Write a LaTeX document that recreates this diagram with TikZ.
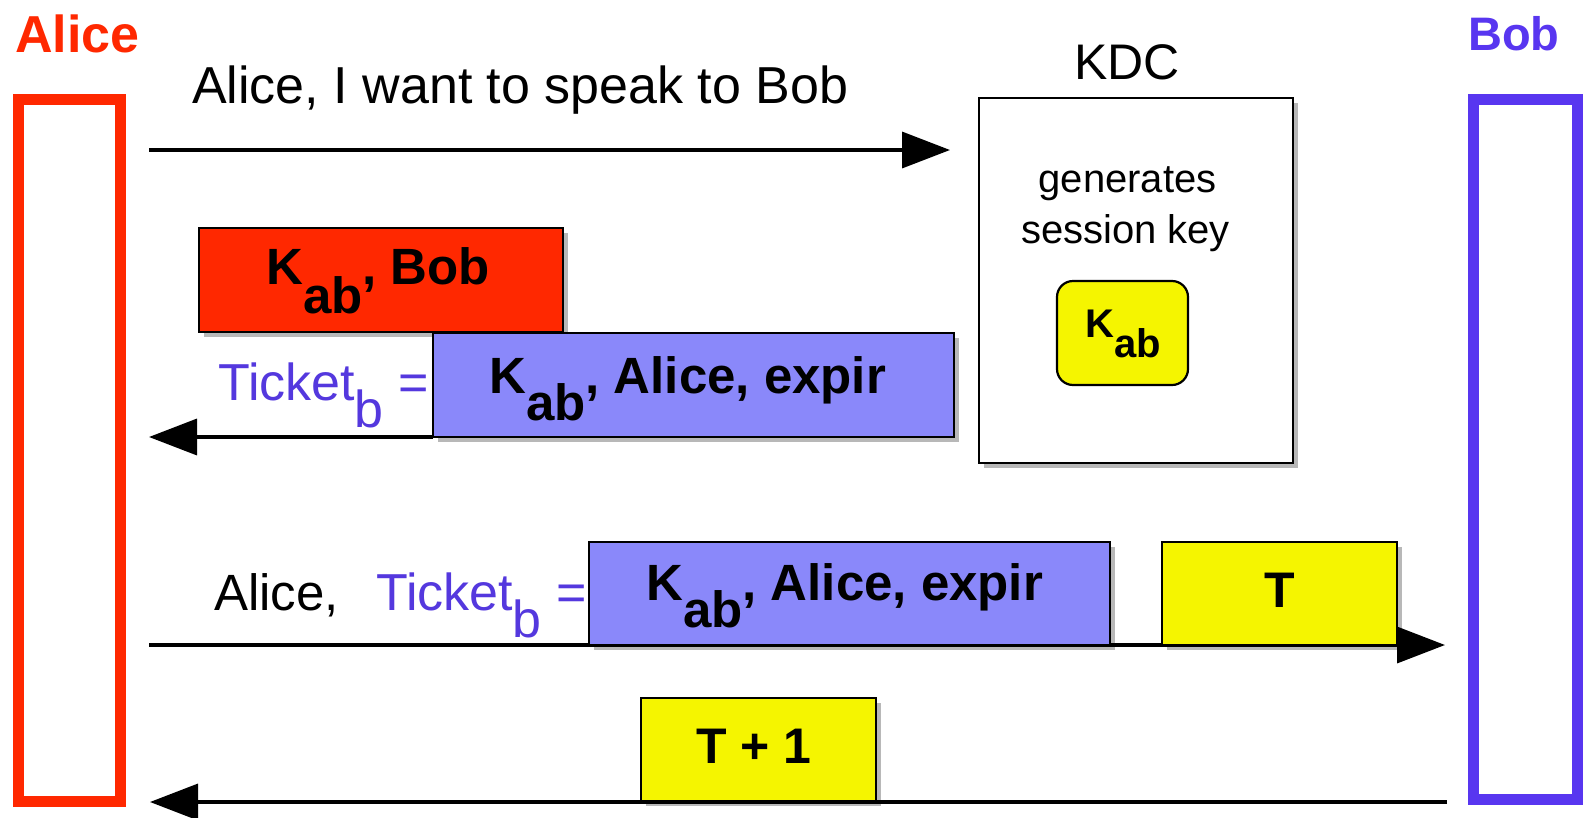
\documentclass[tikz,border=0pt]{standalone}
\usepackage{fontspec}
\setmainfont{Liberation Sans}
\usetikzlibrary{arrows.meta,shadows}
\definecolor{alicered}{RGB}{255,40,0}
\definecolor{bobblue}{RGB}{88,54,240}
\definecolor{tktfill}{RGB}{138,136,250}
\definecolor{keyyellow}{RGB}{245,245,0}
\definecolor{tkttext}{RGB}{84,56,222}
\newcommand{\fsz}[1]{\fontsize{#1}{#1}\selectfont}
\newcommand{\lowsub}[2]{\raisebox{-#1pt}{#2}}
\begin{document}
\begin{tikzpicture}[x=1pt,y=-1pt,
  lifeline/.style={draw=#1,line width=11pt,inner sep=0pt,fill=white},
  msgbox/.style={draw=black,line width=2.2pt,inner sep=0pt,
     drop shadow={shadow xshift=5pt,shadow yshift=-5pt,opacity=0.28,fill=black}},
  txt/.style={inner sep=0pt},
  msgline/.style={line width=3.5pt,-{Triangle[length=48pt,width=36pt]}}]
\useasboundingbox[fill=white] (0,0) rectangle (1585,817);

% lifelines
\node[lifeline=alicered,minimum width=102pt,minimum height=702pt] (alice) at (69.5,450.5) {};
\node[lifeline=bobblue,minimum width=104pt,minimum height=700pt] (bob) at (1525.5,449.5) {};
\node[txt,anchor=base west,text=alicered] (alicelbl) at (15,52) {\fsz{52}\bfseries Alice};
\node[txt,anchor=base west,text=bobblue] (boblbl) at (1468,50) {\fsz{47}\bfseries Bob};

% KDC
\node[txt,anchor=base] (kdclbl) at (1127,79) {\fsz{50}KDC};
\node[msgbox,fill=white,minimum width=314pt,minimum height=365pt] (kdc) at (1136,280.5) {};
\node[txt,anchor=base] (gen1) at (1127.5,192) {\fsz{40}generates};
\node[txt,anchor=base] (gen2) at (1125.5,243) {\fsz{40}session key};
\node[draw=black,line width=2.2pt,fill=keyyellow,rounded corners=16pt,minimum width=131pt,minimum height=104pt] (key) at (1122.5,333) {};
\node[txt,anchor=base west] (keytxt) at (1085,337) {\fsz{40}\bfseries K\lowsub{20}{ab}};

% message 1
\coordinate (m1s) at (149,150);
\coordinate (m1e) at (950,150);
\draw[msgline] (m1s) -- (m1e);
\node[txt,anchor=base west] (m1txt) at (192,103) {\fsz{52}Alice, I want to speak to Bob};

% message 2
\coordinate (m2s) at (433,437);
\coordinate (m2e) at (149,437);
\draw[msgline] (m2s) -- (m2e);
\node[msgbox,fill=alicered,minimum width=364pt,minimum height=104pt] (red) at (381,280) {};
\node[txt,anchor=base west] (redtxt) at (266,284) {\fsz{51}\bfseries K\lowsub{29}{ab}, Bob};
\node[msgbox,fill=tktfill,minimum width=521pt,minimum height=104pt] (tkt1) at (693.5,385) {};
\node[txt,anchor=base west] (tkt1txt) at (489,393) {\fsz{51}\bfseries K\lowsub{27}{ab}, Alice, expir};
\node[txt,anchor=base west,text=tkttext] (tkt1lbl) at (218,400) {\fsz{52}Ticket\lowsub{27}{b} =};

% message 3
\coordinate (m3s) at (149,645);
\coordinate (m3e) at (1445,645);
\draw[msgline] (m3s) -- (m3e);
\node[txt,anchor=base west] (m3alice) at (214,610) {\fsz{51}Alice,};
\node[txt,anchor=base west,text=tkttext] (tkt2lbl) at (376,610) {\fsz{52}Ticket\lowsub{27}{b} =};
\node[msgbox,fill=tktfill,minimum width=521pt,minimum height=103pt] (tkt2) at (849.5,593.5) {};
\node[txt,anchor=base west] (tkt2txt) at (646,600) {\fsz{51}\bfseries K\lowsub{27}{ab}, Alice, expir};
\node[msgbox,fill=keyyellow,minimum width=235pt,minimum height=103pt] (tbox) at (1279.5,593.5) {};
\node[txt,anchor=base] (ttxt) at (1280,607) {\fsz{50}\bfseries T};

% message 4
\coordinate (m4s) at (1447,802);
\coordinate (m4e) at (150,802);
\draw[msgline] (m4s) -- (m4e);
\node[msgbox,fill=keyyellow,minimum width=235pt,minimum height=103pt] (t1box) at (758.5,749.5) {};
\node[txt,anchor=base] (t1txt) at (754,763) {\fsz{50}\bfseries T + 1};
\end{tikzpicture}
\end{document}
